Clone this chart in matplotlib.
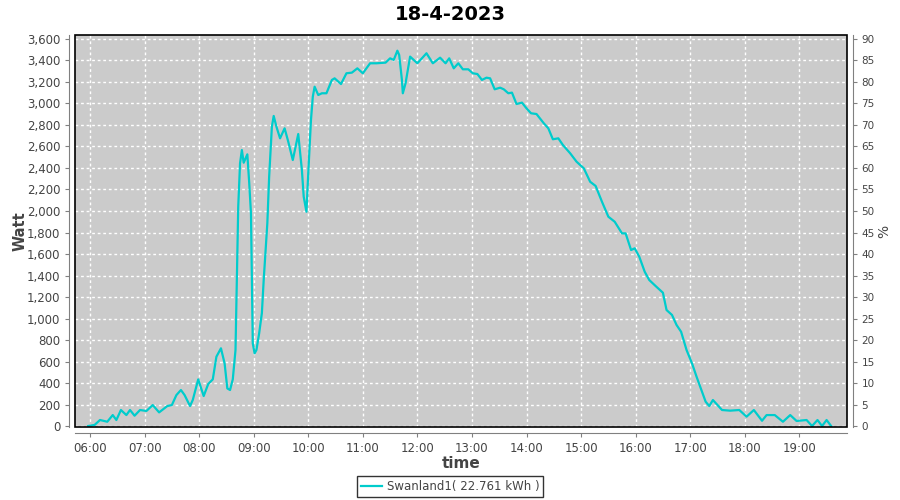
import numpy as np
import matplotlib
matplotlib.use("Agg")
import matplotlib.pyplot as plt
from matplotlib.patches import Rectangle
from matplotlib.ticker import FuncFormatter

# Data (time of day, power in W)
times = ["05:58", "06:05", "06:11", "06:19", "06:25", "06:29", "06:34", "06:40", "06:44", "06:49",
         "06:55", "07:02", "07:09", "07:16", "07:25", "07:30", "07:35", "07:40", "07:44", "07:50",
         "07:53", "07:59", "08:05", "08:10", "08:15", "08:19", "08:24", "08:28", "08:31", "08:34",
         "08:37", "08:40", "08:43", "08:45", "08:47", "08:49", "08:53", "08:55", "08:57", "08:58",
         "08:59", "09:01", "09:03", "09:06", "09:09", "09:11", "09:15", "09:17", "09:20", "09:22",
         "09:25", "09:29", "09:34", "09:38", "09:43", "09:49", "09:53", "09:55", "09:58", "10:00",
         "10:03", "10:05", "10:07", "10:11", "10:15", "10:20", "10:26", "10:29", "10:36", "10:42",
         "10:48", "10:54", "11:00", "11:08", "11:15", "11:25", "11:30", "11:34", "11:38", "11:40",
         "11:43", "11:44", "11:47", "11:52", "12:00", "12:10", "12:17", "12:25", "12:31", "12:35",
         "12:40", "12:45", "12:50", "12:56", "13:01", "13:06", "13:11", "13:16", "13:20", "13:25",
         "13:31", "13:35", "13:40", "13:44", "13:49", "13:55", "14:00", "14:05", "14:11", "14:19",
         "14:24", "14:29", "14:35", "14:40", "14:48", "14:55", "15:03", "15:10", "15:16", "15:23",
         "15:30", "15:37", "15:45", "15:49", "15:55", "15:59", "16:04", "16:10", "16:15", "16:22",
         "16:30", "16:34", "16:40", "16:45", "16:50", "16:56", "17:02", "17:07", "17:13", "17:17",
         "17:21", "17:25", "17:29", "17:35", "17:44", "17:54", "18:02", "18:10", "18:19", "18:24",
         "18:33", "18:42", "18:50", "18:57", "19:08", "19:14", "19:20", "19:25", "19:30", "19:35"]
watt = [0, 10, 56, 40, 102, 56, 149, 102, 149, 96,
        149, 140, 195, 127, 186, 195, 288, 335, 288, 186,
        242, 434, 279, 391, 434, 645, 723, 583, 350, 335,
        434, 707, 2040, 2444, 2567, 2449, 2527, 2272, 1979, 1358,
        769, 676, 707, 862, 1051, 1358, 1886, 2319, 2784, 2884,
        2784, 2676, 2769, 2645, 2474, 2716, 2381, 2133, 1993, 2350,
        2847, 3063, 3156, 3079, 3095, 3095, 3219, 3234, 3181, 3281,
        3287, 3327, 3281, 3374, 3374, 3380, 3420, 3405, 3491, 3451,
        3219, 3095, 3188, 3436, 3374, 3467, 3374, 3426, 3374, 3420,
        3327, 3374, 3318, 3318, 3281, 3274, 3219, 3240, 3234, 3132,
        3147, 3132, 3095, 3101, 2995, 3008, 2955, 2909, 2902, 2816,
        2769, 2667, 2676, 2614, 2537, 2459, 2397, 2272, 2233, 2086,
        1947, 1900, 1792, 1792, 1637, 1653, 1575, 1435, 1358, 1302,
        1240, 1079, 1033, 940, 877, 707, 583, 459, 319, 226,
        186, 242, 205, 149, 143, 149, 87, 149, 49, 102,
        102, 40, 102, 47, 56, 0, 56, 0, 56, 0]

title = "18-4-2023"
series_name = "Swanland1( 22.761 kWh )"
hour_ticks = list(range(6, 20))
watt_ticks = list(range(0, 3601, 200))
pct_ticks = list(range(0, 91, 5))
watt_per_pct = 40.0

# Convert "HH:MM" to fractional hours
hours = [int(t[:2]) + int(t[3:]) / 60.0 for t in times]

line_col = "#00CCCC"
axis_col = "#808080"
text_col = "#444444"

fig = plt.figure(figsize=(9, 5), dpi=100)
ax = fig.add_axes([75 / 900, 73 / 500, 772 / 900, 392 / 500])
ax.set_facecolor("#CBCBCB")

ax.plot(hours, watt, color=line_col, lw=1.6, zorder=3)

ax.set_xlim(5.725, 19.874)
ax.set_ylim(-9, 3637)
ax.set_xticks(hour_ticks)
ax.xaxis.set_major_formatter(FuncFormatter(lambda v, p: "%02d:00" % int(round(v))))
ax.set_yticks(watt_ticks)
ax.yaxis.set_major_formatter(FuncFormatter(lambda v, p: "{:,}".format(int(v))))
ax.grid(True, color="white", linestyle=(0, (2, 2)), lw=1)
ax.set_axisbelow(True)

# JFreeChart-ish axes: gray axis lines offset from the black plot outline
for side in ["left", "bottom"]:
    ax.spines[side].set_position(("outward", 4))
    ax.spines[side].set_color(axis_col)
for side in ["top", "right"]:
    ax.spines[side].set_visible(False)
ax.add_patch(Rectangle((0, 0), 1, 1, transform=ax.transAxes, fill=False,
                       edgecolor="black", lw=1.2, zorder=5, clip_on=False))
ax.tick_params(axis="both", colors=axis_col, labelcolor=text_col, labelsize=8.5, length=3)

ax.set_xlabel("time", fontsize=11, fontweight="bold", color=text_col, labelpad=1)
ax.set_ylabel("Watt", fontsize=10.5, fontweight="bold", color=text_col)
ax.yaxis.set_label_coords(-0.062, 0.5)

ax2 = ax.twinx()
ax2.set_ylim(-9 / watt_per_pct, 3637 / watt_per_pct)
ax2.set_yticks(pct_ticks)
for side in ["left", "top", "bottom"]:
    ax2.spines[side].set_visible(False)
ax2.spines["right"].set_position(("outward", 4))
ax2.spines["right"].set_color(axis_col)
ax2.tick_params(axis="y", colors=axis_col, labelcolor=text_col, labelsize=7.5, length=3)
ax2.set_ylabel("%", fontsize=10, color=text_col, labelpad=2)

fig.suptitle(title, fontsize=14, fontweight="bold", y=0.99)

leg = fig.legend([ax.lines[0]], [series_name], loc="lower center", bbox_to_anchor=(0.5, -0.006),
                 fontsize=8.5, frameon=True, fancybox=False, handlelength=1.8,
                 borderpad=0.35, handletextpad=0.4)
leg.get_frame().set_edgecolor("black")
leg.get_frame().set_linewidth(1)
for t in leg.get_texts():
    t.set_color(text_col)

fig.savefig("out.png", dpi=100)
